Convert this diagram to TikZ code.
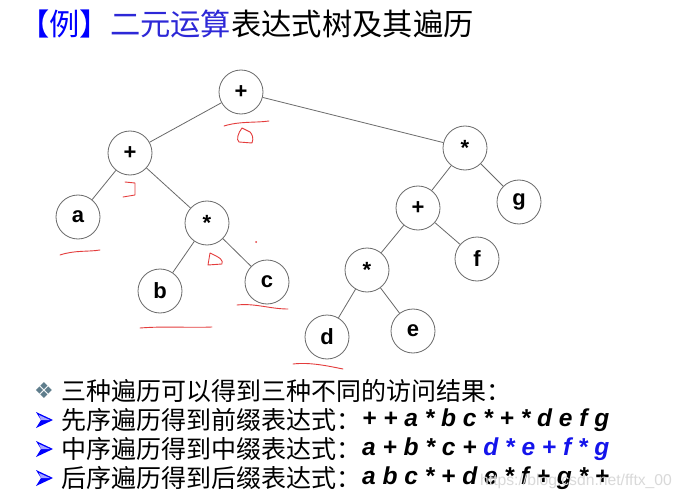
\documentclass[tikz,border=0pt]{standalone}
\usepackage{fontspec}
\setmainfont{Liberation Sans}
\newfontfamily\cjk{Noto Sans CJK SC}
\newfontfamily\dingfont{DejaVu Sans}
\usetikzlibrary{positioning}
\definecolor{titleblue}{RGB}{45,40,215}
\definecolor{exprblue}{RGB}{20,20,235}
\definecolor{edgegray}{RGB}{105,105,105}
\definecolor{inkred}{RGB}{228,60,60}
\definecolor{diamondgray}{RGB}{95,125,140}

\begin{document}
\begin{tikzpicture}[x=1pt, y=-1pt, every node/.style={inner sep=0pt},
  tn/.style={circle, draw=edgegray, line width=0.8pt, minimum size=44pt, font=\fontsize{22}{22}\selectfont\bfseries},
  br/.style={draw=edgegray, line width=0.8pt},
  inkline/.style={draw=inkred, line width=0.9pt, line cap=round, line join=round},
  cn/.style={anchor=west, font=\cjk\fontsize{25}{26}\selectfont},
  ex/.style={anchor=west, font=\fontsize{24.5}{26}\selectfont\bfseries\itshape}]
\useasboundingbox[fill=white] (0,0) rectangle (681,503);
\node[anchor=west, font=\cjk\fontsize{30.3}{31}\selectfont] (title) at (19,24) {\textcolor{blue}{【例】}\textcolor{titleblue}{二元运算}表达式树及其遍历};
\node[tn] (r) at (241,92) {+};
\node[tn] (l) at (130,153) {+};
\node[tn] (a) at (78,217) {a};
\node[tn] (m1) at (207,223) {*};
\node[tn] (b) at (160,291) {b};
\node[tn] (c) at (267,282) {c};
\node[tn] (m2) at (465,148) {*};
\node[tn] (p) at (418,208) {+};
\node[tn] (g) at (519,202) {g};
\node[tn] (f) at (477,259) {f};
\node[tn] (m3) at (367,270) {*};
\node[tn] (d) at (327,337) {d};
\node[tn] (e) at (413,331) {e};
\draw[br] (r) -- (l);
\draw[br] (r) -- (m2);
\draw[br] (l) -- (a);
\draw[br] (l) -- (m1);
\draw[br] (m1) -- (b);
\draw[br] (m1) -- (c);
\draw[br] (m2) -- (p);
\draw[br] (m2) -- (g);
\draw[br] (p) -- (m3);
\draw[br] (p) -- (f);
\draw[br] (m3) -- (d);
\draw[br] (m3) -- (e);
\draw[inkline] (224,126) .. controls (240,121) and (255,123) .. (269,121);
\draw[inkline] (242,128) .. controls (238,133) and (236,140) .. (239,142) -- (252,143) .. controls (254,138) and (252,134) .. (250,132) -- (242,128);
\draw[inkline] (125,182) -- (135,183) -- (135,195) -- (123,197);
\draw[inkline] (60,255) .. controls (75,250) and (88,252) .. (100,250);
\draw[inkline] (210,253) -- (208,265) -- (222,264) .. controls (223,260) and (221,258) .. (210,253);
\fill[inkred] (256,242) circle (1pt);
\draw[inkline] (237,305) .. controls (255,303) and (270,309) .. (288,309);
\draw[inkline] (140,328) .. controls (165,326) and (190,328) .. (212,327);
\draw[inkline] (293,364) .. controls (310,362) and (328,366) .. (343,369);
\node[font=\dingfont\fontsize{22}{22}\selectfont, text=diamondgray] (dia) at (44,391) {❖};
\foreach \y in {420,449,478} {
  \fill[blue] (36,\y-8) -- (53,\y) -- (36,\y+8) -- (41,\y) -- cycle;
  \fill[blue!35] (39,\y-5) -- (50,\y) -- (41,\y) -- cycle;
}
\node[cn] (sum) at (61,391) {三种遍历可以得到三种不同的访问结果：};
\node[cn] (pre) at (61,420) {先序遍历得到前缀表达式：};
\node[ex] (preexp) at (362,420) {+ + a * b c * + * d e f g};
\node[cn] (in) at (61,449) {中序遍历得到中缀表达式：};
\node[ex] (inexp) at (362,449) {a + b * c + \textcolor{exprblue}{d * e + f * g}};
\node[cn] (post) at (61,478) {后序遍历得到后缀表达式：};
\node[ex] (postexp) at (362,478) {a b c * + d e * f + g * +};
\node[anchor=west, text=gray!30, font=\fontsize{15.7}{16}\selectfont] (wm) at (480,481) {https://blog.csdn.net/fftx\_00};
\end{tikzpicture}
\end{document}
